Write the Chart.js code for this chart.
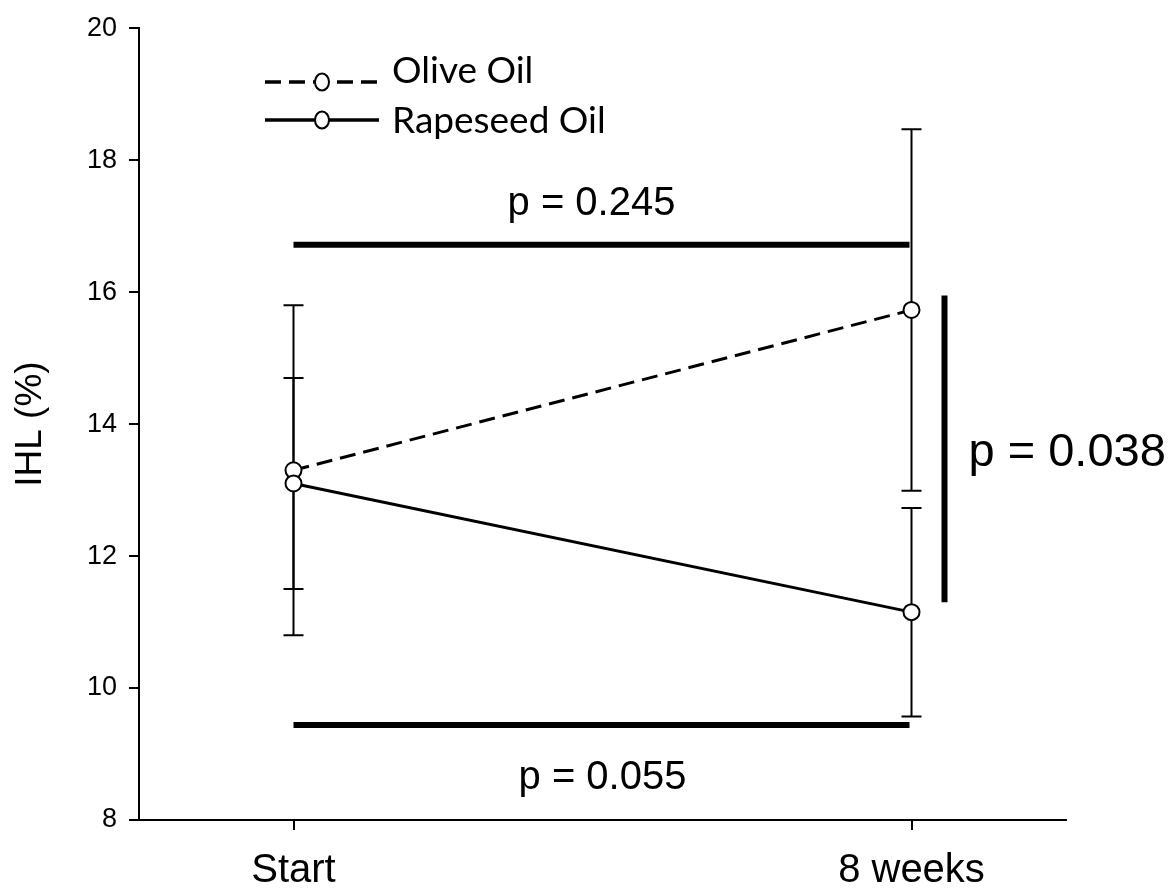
<!DOCTYPE html>
<html>
<head>
<meta charset="utf-8">
<script src="https://cdn.jsdelivr.net/npm/chart.js@4"></script>
<style>
  html,body{margin:0;padding:0;background:#fff;}
  #wrap{width:1172px;height:891px;}
</style>
</head>
<body>
<div id="wrap"><canvas id="c" width="1172" height="891"></canvas></div>
<script>
/* ── DATA ── */
const xLabels = ['Start', '8 weeks'];
const xPos = [0, 1];
const oliveMean = [13.3, 15.73];
const oliveSD = [2.5, 2.74];
const rapeMean = [13.1, 11.15];
const rapeSD = [1.6, 1.58];
const yTicks = [8, 10, 12, 14, 16, 18, 20];
const seriesNames = ['Olive Oil', 'Rapeseed Oil'];
const pTexts = ['p = 0.245', 'p = 0.055', 'p = 0.038'];
const pBarY = [16.72, 9.44];     // horizontal comparison bars (Start → 8 weeks)
const pBarV = [15.95, 11.3];     // vertical comparison bar at 8 weeks

const ARIAL = "'Liberation Sans', Arial, sans-serif";

/* ── ERROR BARS ── */
const errBars = {
  id: 'errBars',
  beforeDatasetsDraw(chart) {
    const {ctx, scales: {x, y}} = chart;
    ctx.save();
    ctx.strokeStyle = '#000'; ctx.lineWidth = 2;
    [[oliveMean, oliveSD], [rapeMean, rapeSD]].forEach(([m, s]) => {
      m.forEach((v, i) => {
        const px = x.getPixelForValue(xPos[i]);
        const t = y.getPixelForValue(v + s[i]), b = y.getPixelForValue(v - s[i]);
        ctx.beginPath();
        ctx.moveTo(px, t); ctx.lineTo(px, b);
        ctx.moveTo(px - 10, t); ctx.lineTo(px + 10, t);
        ctx.moveTo(px - 10, b); ctx.lineTo(px + 10, b);
        ctx.stroke();
      });
    });
    ctx.restore();
  }
};

/* ── ANNOTATIONS, LEGEND, AXIS TITLE ── */
const extras = {
  id: 'extras',
  afterDraw(chart) {
    const {ctx, scales: {x, y}} = chart;
    const x0 = x.getPixelForValue(xPos[0]), x1 = x.getPixelForValue(xPos[1]);
    ctx.save();
    ctx.fillStyle = '#000'; ctx.strokeStyle = '#000';

    // comparison bars
    ctx.lineWidth = 6; ctx.lineCap = 'butt';
    ctx.beginPath();
    pBarY.forEach(v => { const py = y.getPixelForValue(v); ctx.moveTo(x0, py); ctx.lineTo(x1 - 2, py); });
    const vx = x1 + 33;
    ctx.moveTo(vx, y.getPixelForValue(pBarV[0])); ctx.lineTo(vx, y.getPixelForValue(pBarV[1]));
    ctx.stroke();

    // p labels
    ctx.font = '40px ' + ARIAL; ctx.textAlign = 'center'; ctx.textBaseline = 'alphabetic';
    const mid = (x0 + x1) / 2;
    ctx.fillText(pTexts[0], mid - 11, y.getPixelForValue(pBarY[0]) - 30);
    ctx.fillText(pTexts[1], mid, y.getPixelForValue(pBarY[1]) + 64);
    ctx.font = '47px ' + ARIAL; ctx.textAlign = 'left'; ctx.textBaseline = 'middle';
    ctx.fillText(pTexts[2], vx + 24, (y.getPixelForValue(pBarV[0]) + y.getPixelForValue(pBarV[1])) / 2 + 4);

    // legend
    const items = [{dash: [16, 8], ly: 82, ty: 83}, {dash: [], ly: 120, ty: 133}];
    items.forEach((it, i) => {
      ctx.lineWidth = 3.5; ctx.setLineDash(it.dash);
      ctx.beginPath(); ctx.moveTo(265, it.ly); ctx.lineTo(379, it.ly); ctx.stroke();
      ctx.setLineDash([]); ctx.lineWidth = 2;
      ctx.beginPath(); ctx.ellipse(322, it.ly, 7, 8.5, 0, 0, Math.PI * 2);
      ctx.fillStyle = '#fff'; ctx.fill(); ctx.stroke();
      ctx.fillStyle = '#000';
      ctx.font = "37px Lato, 'Open Sans', sans-serif"; ctx.textAlign = 'left'; ctx.textBaseline = 'alphabetic';
      ctx.fillText(seriesNames[i], 392, it.ty);
    });

    // y axis title
    ctx.translate(31, (y.top + y.bottom) / 2);
    ctx.rotate(-Math.PI / 2);
    ctx.font = '37px ' + ARIAL; ctx.textAlign = 'center'; ctx.textBaseline = 'middle';
    ctx.fillText('IHL (%)', 0, 0);
    ctx.restore();
  }
};

const pts = (m) => m.map((v, i) => ({x: xPos[i], y: v}));

new Chart(document.getElementById('c'), {
  type: 'line',
  data: {
    datasets: [
      {label: seriesNames[0], data: pts(oliveMean), borderColor: '#000', borderWidth: 3, borderDash: [16, 8],
       pointRadius: 8, pointBackgroundColor: '#fff', pointBorderColor: '#000', pointBorderWidth: 2, order: 1},
      {label: seriesNames[1], data: pts(rapeMean), borderColor: '#000', borderWidth: 3,
       pointRadius: 8, pointBackgroundColor: '#fff', pointBorderColor: '#000', pointBorderWidth: 2, order: 0}
    ]
  },
  options: {
    responsive: false, animation: false,
    layout: {padding: {top: 28, right: 106, left: 0, bottom: 0}},
    plugins: {legend: {display: false}, tooltip: {enabled: false}},
    scales: {
      x: {
        type: 'linear', min: -0.25, max: 1.25,
        afterBuildTicks: s => { s.ticks = xPos.map(v => ({value: v})); },
        afterFit: s => { s.height = 71; },
        grid: {drawOnChartArea: false, drawTicks: true, tickLength: 10, color: '#000', lineWidth: 2},
        border: {display: true, color: '#000', width: 2},
        ticks: {color: '#000', font: {family: ARIAL, size: 40}, padding: 17, maxRotation: 0,
                callback: v => xLabels[xPos.indexOf(v)] ?? ''}
      },
      y: {
        min: yTicks[0], max: yTicks[yTicks.length - 1],
        afterBuildTicks: s => { s.ticks = yTicks.map(v => ({value: v})); },
        afterFit: s => { s.width = 139; },
        grid: {drawOnChartArea: false, drawTicks: true, tickLength: 10, color: '#000', lineWidth: 2},
        border: {display: true, color: '#000', width: 2},
        ticks: {color: '#000', font: {family: ARIAL, size: 27}, padding: 12}
      }
    }
  },
  plugins: [errBars, extras]
});
</script>
</body>
</html>
